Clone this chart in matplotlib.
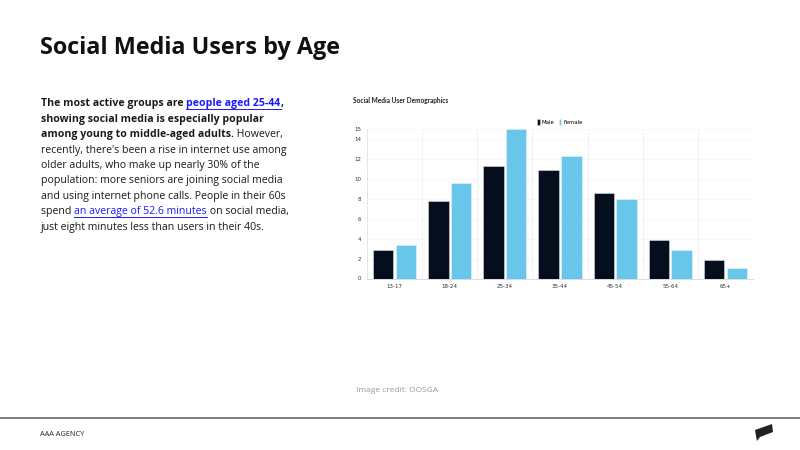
import numpy as np
import matplotlib
matplotlib.use("Agg")
import matplotlib.pyplot as plt
from matplotlib.patches import Polygon

# chart data
age_groups = ["13-17", "18-24", "25-34", "35-44", "45-54", "55-64", "65+"]
male = [2.9, 7.8, 11.3, 10.9, 8.6, 3.9, 1.9]
female = [3.4, 9.6, 15.0, 12.3, 8.0, 2.9, 1.1]
y_ticks = [0, 2, 4, 6, 8, 10, 12, 14, 15]

DARK = "#050e1c"
LIGHT = "#68c6ea"
LINK = "#1a1aff"

# paragraph: list of lines, each line a list of (text, style)
paragraph = [
    [("The most active groups are ", "b"), ("people aged 25-44", "bl"), (",", "b")],
    [("showing social media is especially popular", "b")],
    [("among young to middle-aged adults.", "b"), (" However,", "n")],
    [("recently, there's been a rise in internet use among", "n")],
    [("older adults, who make up nearly 30% of the", "n")],
    [("population: more seniors are joining social media", "n")],
    [("and using internet phone calls. People in their 60s", "n")],
    [("spend ", "n"), ("an average of 52.6 minutes", "l"), (" on social media,", "n")],
    [("just eight minutes less than users in their 40s.", "n")],
]

W, H = 800, 450
fig = plt.figure(figsize=(8, 4.5), dpi=100)
fig.patch.set_facecolor("white")

# slide title
fig.text(40 / W, 1 - 48 / H, "Social Media Users by Age", fontsize=16.8, fontweight="bold",
         family="Open Sans", color="#111111", va="center", ha="left")

# paragraph with mixed styles
fig.canvas.draw()
renderer = fig.canvas.get_renderer()
x0, y0, dy = 41, 104, 15.4
for i, line in enumerate(paragraph):
    x = x0
    y = y0 + i * dy
    for txt, style in line:
        weight = "bold" if "b" in style else "normal"
        color = LINK if "l" in style else "#1a1a1a"
        t = fig.text(x / W, 1 - y / H, txt, fontsize=7.6, fontweight=weight, color=color,
                     family="Open Sans", va="center", ha="left")
        bb = t.get_window_extent(renderer)
        if "l" in style:
            fig.add_artist(plt.Line2D([x / W, (x + bb.width) / W], [1 - (y + 5) / H] * 2,
                                      color=LINK, lw=0.7, transform=fig.transFigure))
        x += bb.width

# embedded chart
ax = fig.add_axes([367 / W, 1 - 278.5 / H, (753 - 367) / W, (278.5 - 128.8) / H])
xs = np.arange(len(age_groups))
bw = 0.37
ax.bar(xs - bw / 2 - 0.02, male, bw, color=DARK, edgecolor="#d8dce0", linewidth=0.4, label="Male", zorder=3)
ax.bar(xs + bw / 2 + 0.02, female, bw, color=LIGHT, edgecolor="#e6f4fa", linewidth=0.4, label="Female", zorder=3)
ax.set_xlim(-0.5, len(age_groups) - 0.5)
ax.set_ylim(0, 15)
ax.set_yticks(y_ticks)
ax.set_yticklabels([str(v) for v in y_ticks])
ax.set_xticks(xs)
ax.set_xticklabels(age_groups)
ax.set_xticks(np.arange(len(age_groups) + 1) - 0.5, minor=True)
ax.tick_params(axis="both", which="major", labelsize=4, length=0, pad=4, labelcolor="#333333")
ax.tick_params(axis="x", which="minor", length=0)
ax.grid(axis="x", which="minor", color="#f0f0f0", lw=0.6, zorder=0)
ax.grid(axis="y", which="major", color="#f4f4f4", lw=0.5, zorder=0)
for s in ["top", "right"]:
    ax.spines[s].set_visible(False)
ax.spines["left"].set_color("#e2e2e2")
ax.spines["bottom"].set_color("#cccccc")
ax.spines["left"].set_linewidth(0.5)
ax.spines["bottom"].set_linewidth(0.5)
ax.legend(loc="lower center", bbox_to_anchor=(0.5, 1.0), ncol=2, frameon=False, fontsize=3.9,
          handlelength=0.4, handleheight=1.2, handletextpad=0.4, columnspacing=0.8,
          borderaxespad=0.3)

fig.text(353 / W, 1 - 100 / H, "Social Media User Demographics", fontsize=4.7, fontweight="bold",
         color="#222222", va="center", ha="left", family="Lato")

# image credit
fig.text(356 / W, 1 - 391 / H, "Image credit: OOSGA", fontsize=6, color="#999999",
         va="center", ha="left", family="Open Sans")

# footer
fig.add_artist(plt.Line2D([0, 1], [1 - 418 / H] * 2, color="#666666", lw=1.2, transform=fig.transFigure))
fig.text(40 / W, 1 - 434 / H, "AAA AGENCY", fontsize=5.3, color="#222222", va="center", ha="left",
         family="Open Sans")
logo = Polygon([[(755) / W, 1 - 430 / H], [(772) / W, 1 - 424 / H], [(773) / W, 1 - 432 / H],
                [(760) / W, 1 - 437 / H], [(757) / W, 1 - 441 / H], [(756) / W, 1 - 436 / H]],
               closed=True, facecolor="#222222", edgecolor="none", transform=fig.transFigure)
fig.add_artist(logo)

fig.savefig("out.png", dpi=100, facecolor="white")
